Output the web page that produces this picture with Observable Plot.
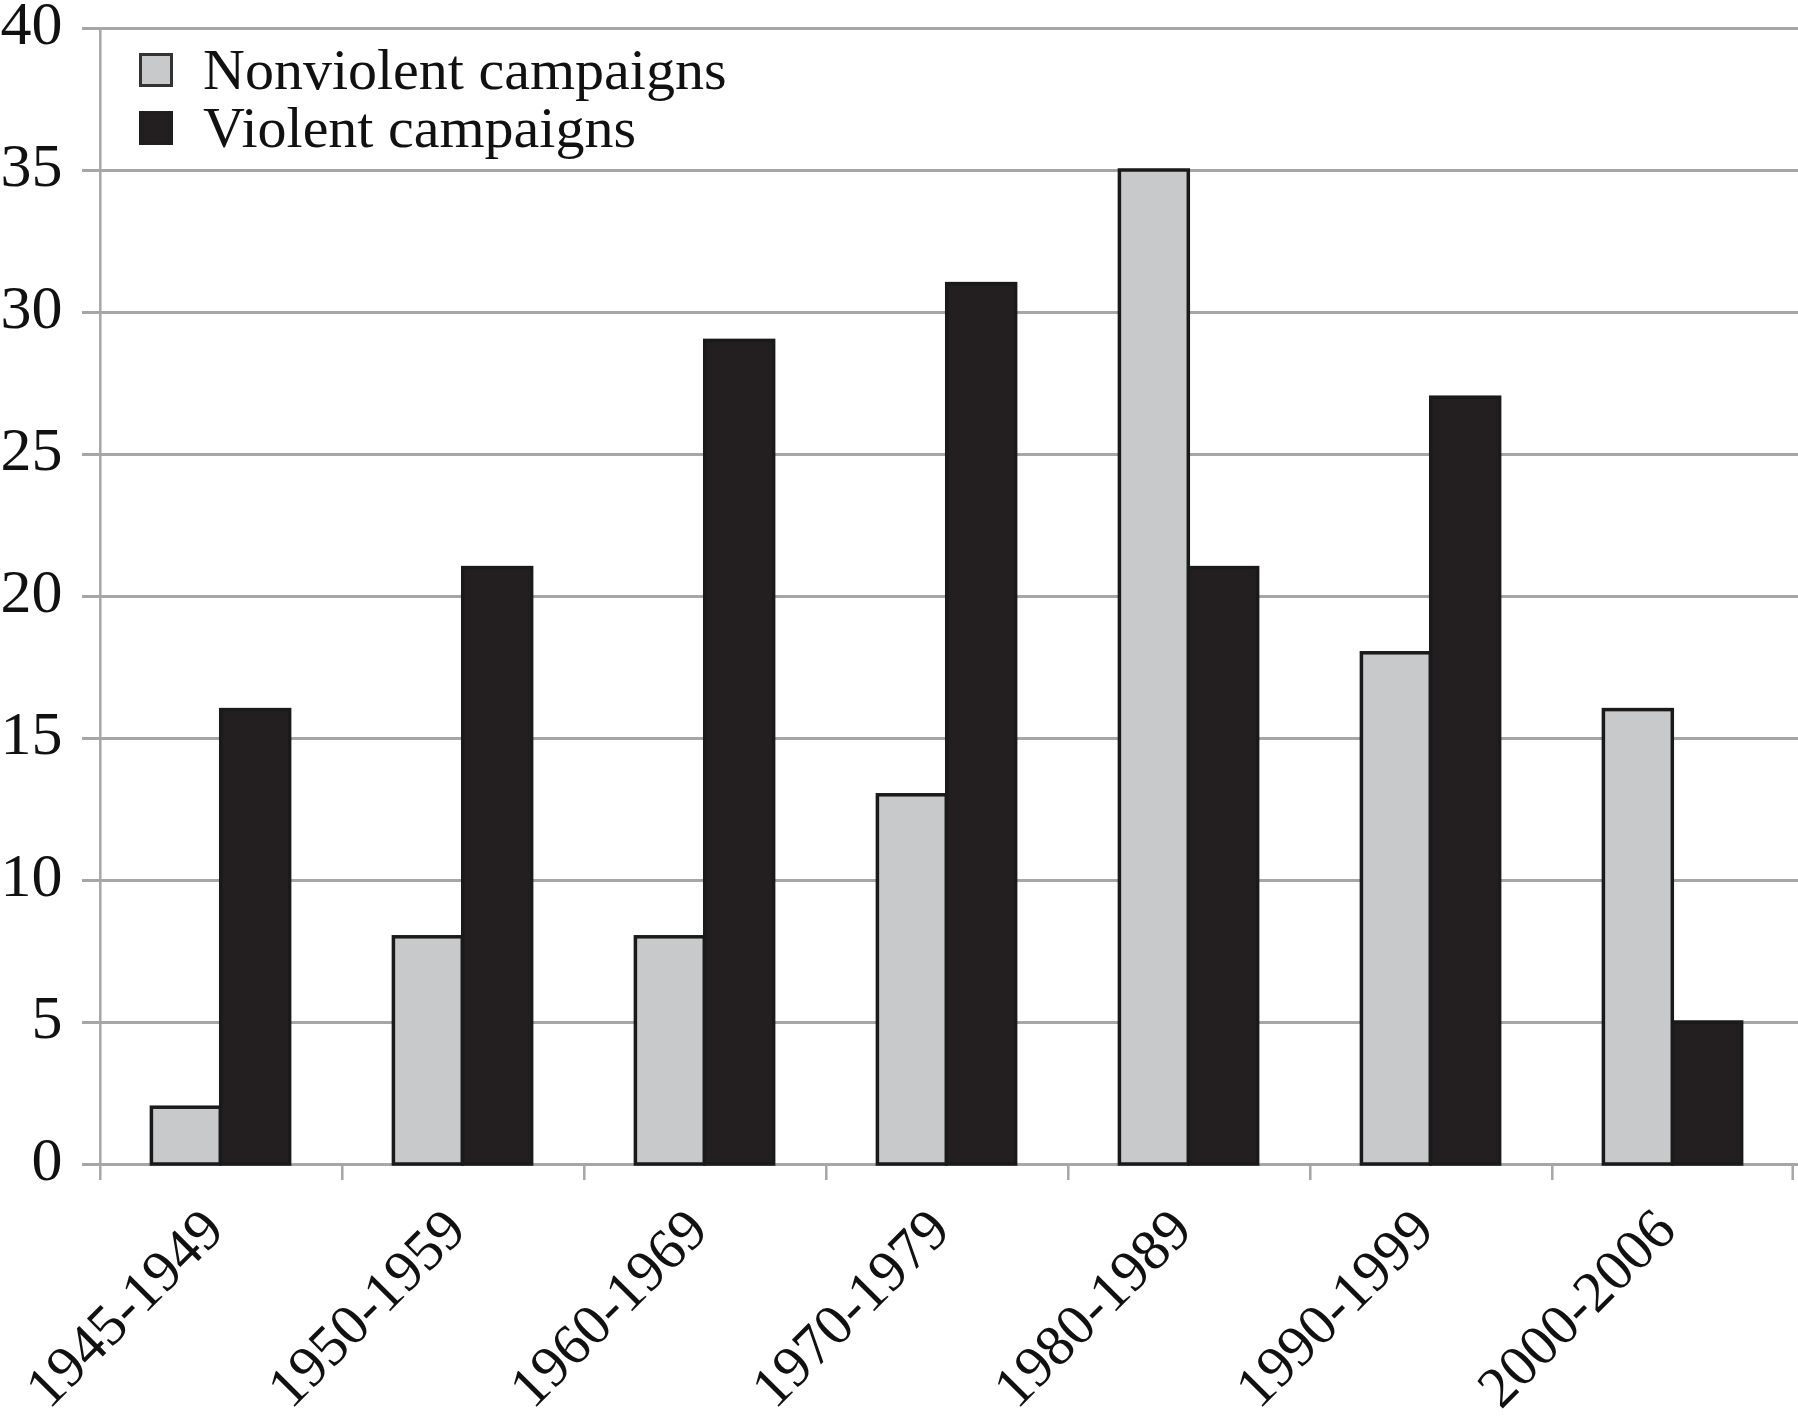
<!DOCTYPE html>
<html>
<head>
<meta charset="utf-8">
<script src="https://cdn.jsdelivr.net/npm/d3@7"></script>
<script src="https://cdn.jsdelivr.net/npm/@observablehq/plot@0.6"></script>
<style>
  html, body { margin: 0; padding: 0; background: #fff; }
  #wrap { position: relative; width: 1798px; height: 1419px; }
  .legend { position: absolute; left: 139px; top: 41px; font-family: "Liberation Serif", "Times New Roman", serif; font-size: 58px; line-height: 56px; color: #111; }
  .legend .row { display: flex; align-items: center; height: 58px; }
  .legend .sw { width: 28px; height: 28px; margin-right: 30px; box-sizing: content-box; }
</style>
</head>
<body>
<div id="wrap"></div>
<script>
const categories = ["1945-1949", "1950-1959", "1960-1969", "1970-1979", "1980-1989", "1990-1999", "2000-2006"];
const nonviolent = [2, 8, 8, 13, 35, 18, 16];
const violent = [16, 21, 29, 31, 21, 27, 5];
const yTicks = [0, 5, 10, 15, 20, 25, 30, 35, 40];
const seriesNames = ["Nonviolent campaigns", "Violent campaigns"];
const seriesFill = ["#c8c9cb", "#231f20"];

const W = 1798, H = 1419;
const mL = 98, mR = 3, mT = 28, mB = 255;
const step = (W - mL - mR) / categories.length;
const padOuter = 0.212 * step;
const barW = 0.286 * step;

const nvData = categories.map((c, i) => ({cat: c, value: nonviolent[i]}));
const vData = categories.map((c, i) => ({cat: c, value: violent[i]}));

const font = '"Liberation Serif", "Times New Roman", serif';
const grid = "#a6a6a6";

const plot = Plot.plot({
  width: W,
  height: H,
  marginLeft: mL,
  marginRight: mR,
  marginTop: mT,
  marginBottom: mB,
  style: {fontFamily: font, background: "#fff", color: "#111", overflow: "visible"},
  x: {type: "band", domain: categories, padding: 0, label: null},
  y: {domain: [0, 40], label: null},
  marks: [
    Plot.ruleY(yTicks, {y: d => d, stroke: grid, strokeWidth: 3, insetLeft: -16, insetRight: -3}),
    Plot.ruleX([categories[0]], {x: d => d, dx: -step / 2, stroke: grid, strokeWidth: 2.5, insetBottom: -16}),
    Plot.ruleX(categories.slice(1), {x: d => d, dx: -step / 2, stroke: grid, strokeWidth: 2.5, insetTop: H - mT - mB, insetBottom: -16}),
    Plot.ruleX([categories[categories.length - 1]], {x: d => d, dx: step / 2 - 2, stroke: grid, strokeWidth: 2.5, insetTop: H - mT - mB, insetBottom: -16}),
    Plot.barY(nvData, {x: "cat", y: "value", fill: seriesFill[0], stroke: "#1a1a1a", strokeWidth: 3.5,
      insetLeft: padOuter, insetRight: step - padOuter - barW}),
    Plot.barY(vData, {x: "cat", y: "value", fill: seriesFill[1], stroke: "#1a1a1a", strokeWidth: 3.5,
      insetLeft: padOuter + barW, insetRight: step - padOuter - 2 * barW}),
    Plot.axisY(yTicks, {tickSize: 0, tickPadding: 36, fontSize: 62, fill: "#111", dy: -4, label: null}),
    Plot.axisX({tickSize: 0, tickPadding: 55, tickRotate: -45, fontSize: 58, fill: "#111", dx: -8, label: null})
  ]
});

const wrap = document.getElementById("wrap");
wrap.appendChild(plot);

const legend = document.createElement("div");
legend.className = "legend";
seriesNames.forEach((name, i) => {
  const row = document.createElement("div");
  row.className = "row";
  const sw = document.createElement("div");
  sw.className = "sw";
  sw.style.background = seriesFill[i];
  sw.style.border = "3px solid " + (i === 0 ? "#333" : "#1e1e1e");
  const t = document.createElement("span");
  t.textContent = name;
  row.appendChild(sw);
  row.appendChild(t);
  legend.appendChild(row);
});
wrap.appendChild(legend);
</script>
</body>
</html>
